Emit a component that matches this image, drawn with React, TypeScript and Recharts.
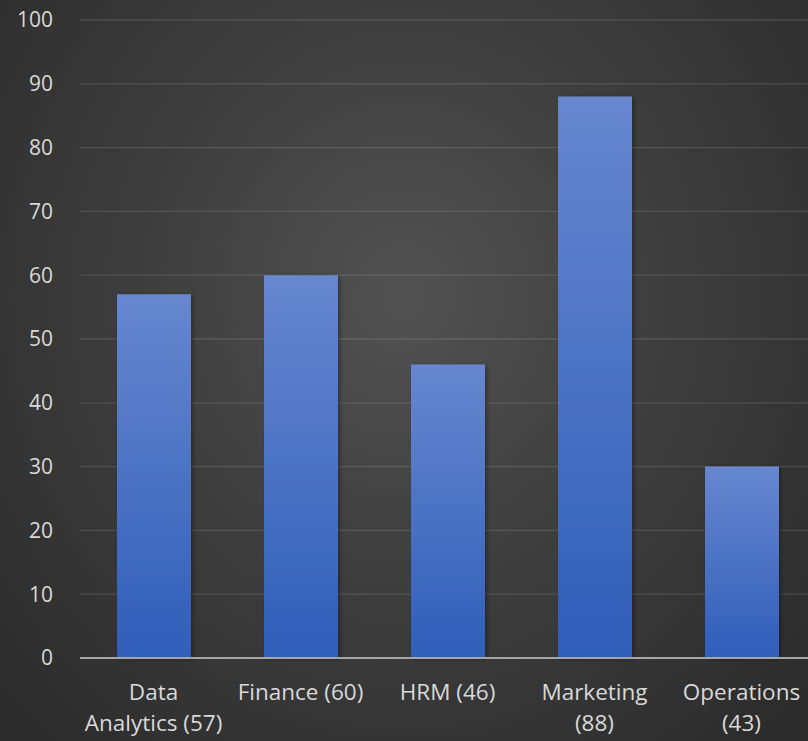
import React from "react";
import { BarChart, Bar, XAxis, YAxis, CartesianGrid } from "recharts";

const categories = ["Data Analytics (57)", "Finance (60)", "HRM (46)", "Marketing (88)", "Operations (43)"];
const tickLines = [["Data", "Analytics (57)"], ["Finance (60)"], ["HRM (46)"], ["Marketing", "(88)"], ["Operations", "(43)"]];
const values = [57, 60, 46, 88, 30];
const yTicks = [0, 10, 20, 30, 40, 50, 60, 70, 80, 90, 100];

const data = categories.map((c, i) => ({ name: c, value: values[i], lines: tickLines[i] }));

const FONT = "'Open Sans', 'Noto Sans', sans-serif";

const XTick = (props: any) => {
  const { x, y, index } = props;
  const lines = tickLines[index] || [];
  return (
    <g>
      {lines.map((l: string, i: number) => (
        <text key={i} x={x} y={y + 34 + i * 31} textAnchor="middle" fill="#d9d9d9" fontSize={22.5} fontFamily={FONT}>
          {l}
        </text>
      ))}
    </g>
  );
};

export default function App() {
  return (
    <div
      style={{
        position: "absolute",
        left: 0,
        top: 0,
        width: 808,
        height: 741,
        overflow: "hidden",
        background: "radial-gradient(ellipse at 50% 40%, #525252 0%, #3e3e3e 45%, #2a2a2a 100%)",
      }}
    >
      <BarChart width={815} height={741} data={data} margin={{ top: 20, right: 0, left: 0, bottom: 0 }} barSize={74}>
        <defs>
          <linearGradient id="barGrad" x1="0" y1="0" x2="0" y2="1">
            <stop offset="0%" stopColor="#6787cf" />
            <stop offset="100%" stopColor="#2f5eb9" />
          </linearGradient>
          <filter id="shadow" x="-20%" y="-10%" width="140%" height="120%">
            <feDropShadow dx="2" dy="1" stdDeviation="2" floodColor="#000" floodOpacity="0.35" />
          </filter>
        </defs>
        <CartesianGrid vertical={false} stroke="rgba(255,255,255,0.12)" strokeWidth={1.3} />
        <XAxis
          dataKey="name"
          height={83}
          interval={0}
          tickLine={false}
          axisLine={{ stroke: "#a6a6a6", strokeWidth: 2 }}
          tick={<XTick />}
        />
        <YAxis
          width={80}
          domain={[0, 100]}
          ticks={yTicks}
          interval={0}
          axisLine={false}
          tickLine={false}
          tickSize={0}
          tickMargin={27}
          tick={{ fill: "#d9d9d9", fontSize: 21, fontFamily: FONT }}
        />
        <Bar dataKey="value" fill="url(#barGrad)" isAnimationActive={false} style={{ filter: "url(#shadow)" }} />
      </BarChart>
    </div>
  );
}
